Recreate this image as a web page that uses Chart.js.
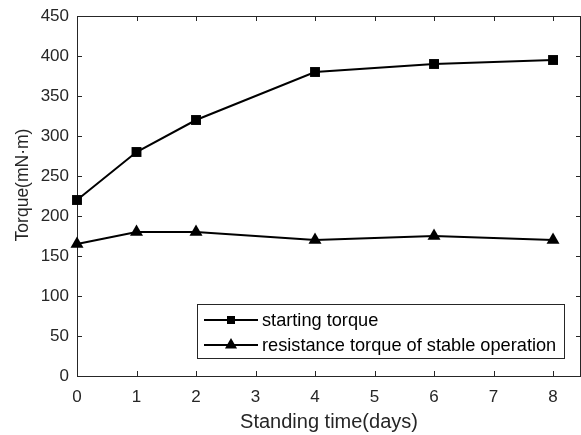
<!DOCTYPE html>
<html>
<head>
<meta charset="utf-8">
<script src="https://cdn.jsdelivr.net/npm/chart.js@4"></script>
<style>
html,body{margin:0;padding:0;background:#fff;overflow:hidden;}
#wrap{width:581px;height:435px;}
</style>
</head>
<body>
<div id="wrap"><canvas id="c" width="581" height="435"></canvas></div>
<script>
const days = [0, 1, 2, 4, 6, 8];
const startingTorque = [220, 280, 320, 380, 390, 395];
const resistanceTorque = [165, 180, 180, 170, 175, 170];
const xTicks = [0, 1, 2, 3, 4, 5, 6, 7, 8];
const yTicks = [0, 50, 100, 150, 200, 250, 300, 350, 400, 450];
const seriesNames = ['starting torque', 'resistance torque of stable operation'];
const xTitle = 'Standing time(days)';
const yTitle = 'Torque(mN·m)';

const AX = '#262626';
const FONT = '"Liberation Sans", Arial, sans-serif';

const framePlugin = {
  id: 'frame',
  afterDatasetsDraw(chart) {
    const {ctx, chartArea: a, scales: {x, y}} = chart;
    ctx.save();
    ctx.strokeStyle = AX;
    ctx.lineWidth = 1;
    ctx.beginPath();
    ctx.moveTo(a.left, a.top + 0.5); ctx.lineTo(a.right, a.top + 0.5);
    ctx.moveTo(a.right - 0.5, a.top); ctx.lineTo(a.right - 0.5, a.bottom);
    const L = 5;
    xTicks.forEach(v => {
      const px = Math.round(x.getPixelForValue(v)) + 0.5;
      ctx.moveTo(px, a.bottom); ctx.lineTo(px, a.bottom - L);
      ctx.moveTo(px, a.top); ctx.lineTo(px, a.top + L);
    });
    yTicks.forEach(v => {
      const py = Math.round(y.getPixelForValue(v)) + 0.5;
      ctx.moveTo(a.left, py); ctx.lineTo(a.left + L, py);
      ctx.moveTo(a.right, py); ctx.lineTo(a.right - L, py);
    });
    ctx.stroke();

    // y title
    ctx.save();
    ctx.translate(23, 185);
    ctx.rotate(-Math.PI / 2);
    ctx.fillStyle = AX;
    ctx.font = '17.5px ' + FONT;
    ctx.textAlign = 'center';
    ctx.textBaseline = 'middle';
    ctx.fillText(yTitle, 0, 0);
    ctx.restore();

    // legend box
    const bx = 197.5, by = 304.5, bw = 367, bh = 54;
    ctx.fillStyle = '#fff';
    ctx.fillRect(bx, by, bw, bh);
    ctx.strokeStyle = AX;
    ctx.lineWidth = 1;
    ctx.strokeRect(bx, by, bw, bh);
    const rows = [320, 345];
    chart.data.datasets.forEach((ds, i) => {
      const ry = rows[i];
      ctx.strokeStyle = '#000';
      ctx.lineWidth = 2;
      ctx.beginPath();
      ctx.moveTo(204, ry); ctx.lineTo(258, ry);
      ctx.stroke();
      ctx.fillStyle = '#000';
      if (ds.pointStyle === 'rect') {
        ctx.fillRect(231 - 4, ry - 4, 8, 8);
      } else {
        const r = 7;
        ctx.beginPath();
        ctx.moveTo(231, ry - r);
        ctx.lineTo(231 + r * 0.866, ry + r * 0.5);
        ctx.lineTo(231 - r * 0.866, ry + r * 0.5);
        ctx.closePath();
        ctx.fill();
      }
      ctx.fillStyle = '#000';
      ctx.font = '18.2px ' + FONT;
      ctx.textBaseline = 'middle';
      ctx.textAlign = 'left';
      ctx.fillText(ds.label, 262, ry + 1);
    });
    ctx.restore();
  }
};

new Chart(document.getElementById('c'), {
  type: 'line',
  data: {
    datasets: [
      {
        label: seriesNames[0],
        data: days.map((d, i) => ({x: d, y: startingTorque[i]})),
        borderColor: '#000', backgroundColor: '#000',
        borderWidth: 2, pointStyle: 'rect', pointRadius: 7,
        pointBorderWidth: 0, tension: 0
      },
      {
        label: seriesNames[1],
        data: days.map((d, i) => ({x: d, y: resistanceTorque[i]})),
        borderColor: '#000', backgroundColor: '#000',
        borderWidth: 2, pointStyle: 'triangle', pointRadius: 7.5,
        pointBorderWidth: 0, tension: 0
      }
    ]
  },
  options: {
    responsive: false,
    animation: false,
    clip: false,
    layout: {autoPadding: false, padding: {top: 16, right: 0, left: 0, bottom: 0}},
    plugins: {legend: {display: false}, tooltip: {enabled: false}},
    scales: {
      x: {
        type: 'linear', min: 0, max: 8.47,
        grid: {display: false, drawTicks: false},
        border: {display: true, color: AX, width: 1},
        afterBuildTicks(s) { s.ticks = xTicks.map(v => ({value: v})); },
        afterFit(s) { s.height = 59; s.paddingRight = 0; s.paddingLeft = 0; },
        ticks: {color: AX, font: {size: 17, family: FONT}, padding: 11, maxRotation: 0, autoSkip: false},
        title: {display: true, text: xTitle, color: AX, font: {size: 20, family: FONT}, padding: {top: 0, bottom: 1}}
      },
      y: {
        type: 'linear', min: 0, max: 450,
        grid: {display: false, drawTicks: false},
        border: {display: true, color: AX, width: 1},
        afterBuildTicks(s) { s.ticks = yTicks.map(v => ({value: v})); },
        afterFit(s) { s.width = 77; s.paddingTop = 0; s.paddingBottom = 0; },
        ticks: {color: AX, font: {size: 17, family: FONT}, padding: 8, autoSkip: false},
        title: {display: false}
      }
    }
  },
  plugins: [framePlugin]
});
</script>
</body>
</html>
